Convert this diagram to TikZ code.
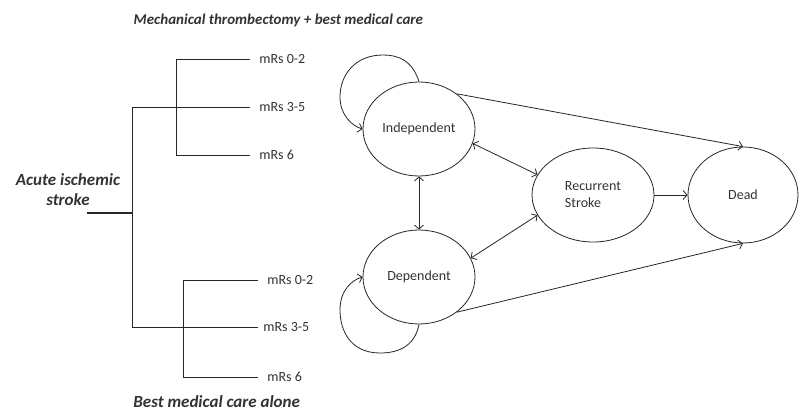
\documentclass[tikz,border=0pt]{standalone}
\usepackage{fontspec}
\setmainfont{Carlito}
\usetikzlibrary{shapes.geometric,arrows.meta}

\definecolor{linecol}{HTML}{262626}
\definecolor{textcol}{HTML}{333333}

\begin{document}
\begin{tikzpicture}[x=1pt,y=-1pt,
  line width=0.8pt,
  link/.style={draw=linecol},
  state/.style={ellipse, draw=linecol, line width=0.8pt, inner sep=0pt,
    minimum width=112pt, minimum height=94pt, text=textcol,
    font=\fontsize{14}{17}\selectfont},
  leaf/.style={anchor=west, inner ysep=0pt, text=textcol,
    font=\fontsize{14}{17}\selectfont},
  heading/.style={text=textcol, font=\bfseries\itshape},
  barb/.tip={Straight Barb[length=4pt,width=9pt]},
  arr/.style={link, -barb},
  darr/.style={link, barb-barb}
]
\fill[white] (0,0) rectangle (801,412);
\useasboundingbox (0,0) rectangle (801,412);

% headings
\node[heading, anchor=west, font=\fontsize{15}{18}\selectfont\bfseries\itshape] (toptitle) at (130,20) {Mechanical thrombectomy + best medical care};
\node[heading, anchor=west, inner sep=1pt, font=\fontsize{17}{20}\selectfont\bfseries\itshape] (bottitle) at (132,402) {Best medical care alone};
\node[heading, align=center, font=\fontsize{17}{20}\selectfont\bfseries\itshape] (root) at (68,190) {Acute ischemic\\stroke};

% decision tree joints
\coordinate (r0) at (87,213);
\coordinate (r1) at (132,213);
\coordinate (ja) at (132,107);
\coordinate (jb) at (132,327);
\coordinate (ta) at (176,107);
\coordinate (ta1) at (176,59);
\coordinate (ta3) at (176,155);
\coordinate (ba) at (183,327);
\coordinate (ba1) at (183,280);
\coordinate (ba3) at (183,377);

% leaves
\node[leaf, inner xsep=9pt] (t02) at (250,59) {mRs 0-2};
\node[leaf, inner xsep=9pt] (t35) at (250,107) {mRs 3-5};
\node[leaf, inner xsep=9pt] (t6)  at (250,155) {mRs 6};
\node[leaf, inner xsep=9pt] (b02) at (258,280) {mRs 0-2};
\node[leaf, inner xsep=5pt] (b35) at (258,327) {mRs 3-5};
\node[leaf, inner xsep=9pt] (b6)  at (258,377) {mRs 6};

\draw[link, line width=1.6pt] (r0) -- (r1);
\draw[link] (ja) -- (jb);
\draw[link] (ja) -- (ta);
\draw[link] (ta1) -- (ta3);
\draw[link] (ta1) -- (t02.west);
\draw[link] (ta) -- (t35.west);
\draw[link] (ta3) -- (t6.west);
\draw[link] (jb) -- (b35.west);
\draw[link] (ba1) -- (ba3);
\draw[link] (ba1) -- (b02.west);
\draw[link] (ba3) -- (b6.west);

% Markov states
\node[state] (ind) at (419,129) {Independent};
\node[state] (dep) at (419,277) {Dependent};
\node[state, minimum width=122pt, align=left] (rec) at (593,195) {Recurrent\\Stroke};
\node[state, minimum width=110pt, minimum height=96pt] (dead) at (743,195) {Dead};

% transitions
\draw[arr] (ind.43) -- (dead.north);
\draw[arr] (dep.-43) -- (dead.south);
\draw[darr] (ind.-15) -- (rec.160);
\draw[darr] (dep.20) -- (rec.-160);
\draw[darr] (ind.south) -- (dep.north);
\draw[arr] (rec.east) -- (dead.west);

% staying in the same state
\draw[arr] (ind.north) .. controls (412,60) and (398,55) .. (383,55)
  .. controls (355,55) and (340,75) .. (340,97)
  .. controls (340,115) and (352,126) .. (ind.west);
\draw[arr] (dep.south) .. controls (415,345) and (400,353) .. (380,353)
  .. controls (350,353) and (340,330) .. (340,310)
  .. controls (340,290) and (352,280) .. (dep.west);
\end{tikzpicture}
\end{document}
